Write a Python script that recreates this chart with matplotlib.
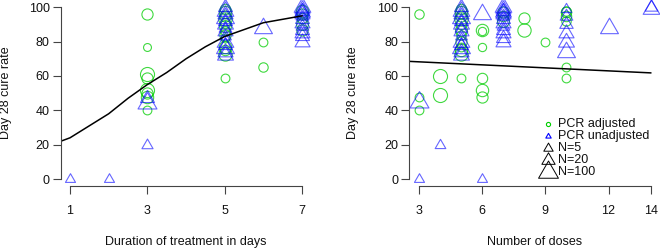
import numpy as np
import matplotlib.pyplot as plt
from matplotlib.path import Path

plt.rcParams['font.family'] = ['Liberation Sans', 'DejaVu Sans']

# ---- left panel: duration of treatment (days)
dur_adj_x = [3, 3, 3, 3, 3, 3, 3, 3,
             5, 5, 5, 5, 5, 5, 5, 5, 5, 5, 5, 5, 5,
             6, 6,
             7, 7, 7, 7, 7]
dur_adj_y = [96, 77, 61, 59, 52, 50, 48, 40,
             99, 97, 95, 93, 91, 89, 86, 84, 82, 77, 75, 73, 59,
             80, 65,
             98, 96, 94, 90, 87]
dur_adj_n = [40, 10, 100, 40, 100, 40, 60, 15,
             30, 60, 40, 80, 30, 50, 20, 40, 15, 60, 30, 80, 15,
             15, 20,
             60, 40, 30, 50, 40]

dur_un_x = [1, 2, 3, 3, 3,
            5, 5, 5, 5, 5, 5, 5, 5, 5, 5, 5, 5, 5, 5,
            6,
            7, 7, 7, 7, 7, 7, 7, 7, 7, 7, 7, 7, 7]
dur_un_y = [0, 0, 47, 44, 20,
            100, 98, 96, 94, 92, 90, 88, 86, 83, 80, 78, 76, 74, 72,
            88,
            100, 99, 98, 97, 96, 95, 93, 91, 89, 87, 85, 83, 80]
dur_un_n = [8, 8, 30, 100, 12,
            30, 60, 40, 80, 30, 50, 20, 40, 15, 60, 30, 80, 40, 50,
            80,
            60, 40, 30, 50, 40, 20, 30, 40, 20, 30, 40, 30, 40]

dur_fit_x = [0.76, 1, 1.5, 2, 2.5, 3, 3.5, 4, 4.5, 5, 5.5, 6, 6.5, 7]
dur_fit_y = [22, 24, 31, 38, 47, 55, 62, 70, 77, 83, 87, 91, 93, 95]

# ---- right panel: number of doses
dose_adj_x = [3, 3, 3, 4, 4,
              5, 5, 5, 5, 5, 5, 5, 5, 5, 5, 5, 5,
              6, 6, 6, 6, 6, 6,
              7, 7, 7, 8, 8, 9,
              10, 10, 10, 10, 10, 10]
dose_adj_y = [96, 48, 40, 60, 49,
              99, 97, 95, 93, 90, 87, 84, 80, 77, 75, 73, 59,
              87, 86, 77, 59, 52, 48,
              97, 95, 92, 94, 87, 80,
              98, 97, 95, 92, 65, 59]
dose_adj_n = [20, 15, 15, 100, 100,
              30, 60, 40, 80, 30, 50, 20, 40, 15, 60, 80, 15,
              60, 12, 12, 30, 60, 40,
              40, 30, 50, 40, 80, 15,
              20, 30, 30, 20, 15, 15]

dose_un_x = [3, 3, 4,
             5, 5, 5, 5, 5, 5, 5, 5, 5, 5, 5, 5, 5, 5,
             6, 6,
             7, 7, 7, 7, 7, 7, 7, 7, 7, 7, 7, 7, 7,
             10, 10, 10, 10, 10, 10,
             12, 14, 14]
dose_un_y = [45, 0, 20,
             100, 98, 96, 94, 92, 90, 88, 86, 83, 80, 78, 76, 74, 72,
             96, 0,
             100, 99, 98, 97, 96, 95, 93, 91, 89, 87, 85, 82, 80,
             99, 95, 90, 85, 80, 74,
             88, 99, 100]
dose_un_n = [100, 8, 10,
             30, 60, 40, 80, 30, 50, 20, 40, 15, 60, 30, 80, 40, 50,
             80, 8,
             60, 40, 30, 50, 40, 20, 30, 40, 20, 30, 40, 30, 40,
             10, 20, 25, 40, 50, 80,
             80, 60, 20]

dose_fit_x = [2.56, 14]
dose_fit_y = [68.5, 61.8]

legend_labels = ["PCR adjusted", "PCR unadjusted", "N=5", "N=20", "N=100"]
legend_n = [5, 20, 100]

GREEN = '#00cd00'
BLUE = '#0000ff'

# R style triangle (pch=2), centred on its centroid
tri = Path([(0, 1), (0.866, -0.5), (-0.866, -0.5), (0, 1)],
           [Path.MOVETO, Path.LINETO, Path.LINETO, Path.CLOSEPOLY])


def circ_size(n):
    return 3.2 * np.asarray(n, dtype=float) ** 0.25


def tri_size(n):
    return 1.555 * circ_size(n)


def draw_points(ax, x, y, n, marker, color, alpha, sizefn):
    for xi, yi, ni in zip(x, y, n):
        ax.plot(xi, yi, marker=marker, ms=sizefn(ni), mfc='none',
                mec=color, mew=0.8, alpha=alpha, ls='none', clip_on=False)


def style_axes(ax, xticks, xlim, xlabel):
    ax.set_xlim(*xlim)
    ax.set_ylim(-4, 104)
    for s in ['top', 'right']:
        ax.spines[s].set_visible(False)
    ax.spines['left'].set_bounds(0, 100)
    ax.spines['bottom'].set_bounds(xticks[0], xticks[-1])
    for s in ['left', 'bottom']:
        ax.spines[s].set_color('#444444')
        ax.spines[s].set_linewidth(0.8)
    ax.set_xticks(xticks)
    ax.set_yticks([0, 20, 40, 60, 80, 100])
    ax.tick_params(axis='both', direction='out', length=5.5, width=0.8,
                   color='#444444', labelsize=9, labelcolor='#111111')
    ax.tick_params(axis='x', pad=8.5)
    ax.tick_params(axis='y', pad=2.5)
    ax.set_xlabel(xlabel, fontsize=9, color='#111111')
    ax.set_ylabel("Day 28 cure rate", fontsize=9, color='#111111')
    ax.xaxis.set_label_coords(0.5, -0.27)


fig = plt.figure(figsize=(6.6, 2.49), dpi=100)
ax1 = fig.add_axes([0.092, 0.2534, 0.3797, 0.745])
ax2 = fig.add_axes([0.6203, 0.2534, 0.3797, 0.745])

# left
draw_points(ax1, dur_adj_x, dur_adj_y, dur_adj_n, 'o', GREEN, 0.75, circ_size)
draw_points(ax1, dur_un_x, dur_un_y, dur_un_n, tri, BLUE, 0.6, tri_size)
ax1.plot(dur_fit_x, dur_fit_y, color='black', lw=1.1)
style_axes(ax1, [1, 3, 5, 7], (0.76, 7.24), "Duration of treatment in days")
ax1.yaxis.set_label_coords(-0.194, 0.5)

# right
draw_points(ax2, dose_adj_x, dose_adj_y, dose_adj_n, 'o', GREEN, 0.75, circ_size)
draw_points(ax2, dose_un_x, dose_un_y, dose_un_n, tri, BLUE, 0.6, tri_size)
ax2.plot(dose_fit_x, dose_fit_y, color='black', lw=1.1)
style_axes(ax2, [3, 6, 9, 12, 14], (2.56, 14.44), "Number of doses")
ax2.yaxis.set_label_coords(-0.201, 0.5)

# legend, drawn by hand like R's legend()
mx, tx = 0.555, 0.593
rows = [0.333, 0.270, 0.205, 0.140, 0.076]
ax2.plot(mx, rows[0], marker='o', ms=3.0, mfc='none', mec=GREEN, mew=0.8,
         transform=ax2.transAxes, clip_on=False)
ax2.plot(mx, rows[1], marker=tri, ms=4.5, mfc='none', mec=BLUE, mew=0.8,
         transform=ax2.transAxes, clip_on=False)
for r, n in zip(rows[2:], legend_n):
    ax2.plot(mx, r, marker=tri, ms=tri_size(n) * 1.05, mfc='none', mec='black',
             mew=0.7, transform=ax2.transAxes, clip_on=False)
for r, lab in zip(rows, legend_labels):
    ax2.text(tx, r, lab, transform=ax2.transAxes, fontsize=9,
             va='center', ha='left', color='#111111')

fig.savefig("out.png", dpi=100)
